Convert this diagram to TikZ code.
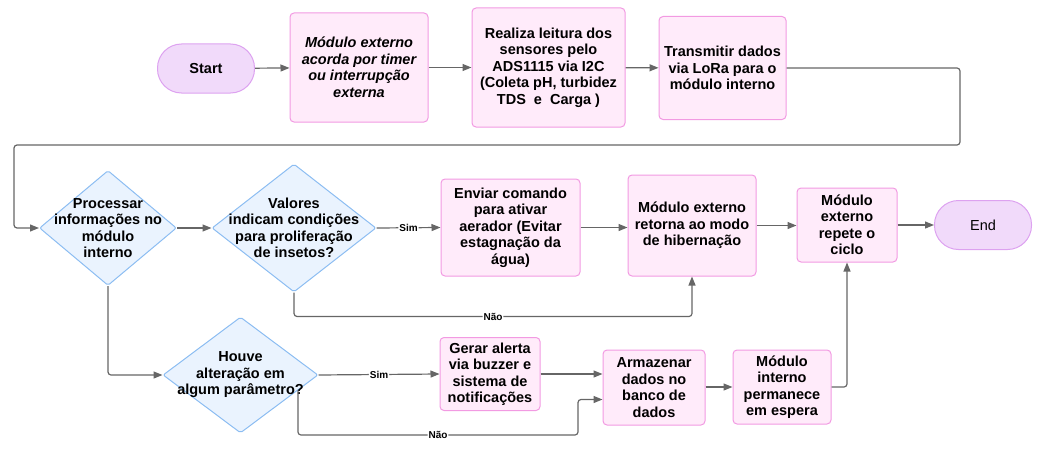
\documentclass[tikz,border=0pt]{standalone}
\usepackage{fontspec}
\setmainfont{Liberation Sans}
\usetikzlibrary{shapes.geometric,arrows.meta,calc}

\definecolor{boxfill}{HTML}{FFEBFA}
\definecolor{boxline}{HTML}{F29AE2}
\definecolor{termfill}{HTML}{F1DAFA}
\definecolor{termline}{HTML}{DDA2F0}
\definecolor{decfill}{HTML}{EAF3FE}
\definecolor{decline}{HTML}{8CBDF2}
\definecolor{wire}{HTML}{666666}

\tikzset{
  proc/.style={draw=boxline, fill=boxfill, line width=1pt, rounded corners=4pt, align=center,
    font=\fontsize{14.5}{16.5}\selectfont\bfseries, inner sep=1pt},
  term/.style={draw=termline, fill=termfill, line width=1pt, rounded corners=24pt,
    minimum width=97pt, minimum height=49pt, font=\fontsize{14.5}{16.5}\selectfont},
  decision/.style={diamond, draw=decline, fill=decfill, line width=1pt, inner sep=0pt, rounded corners=2pt},
  dtext/.style={align=center, font=\fontsize{14.5}{16.5}\selectfont\bfseries},
  flow/.style={draw=wire, line width=1.2pt, -{Triangle[length=9pt,width=7pt]}, rounded corners=3pt},
  yesno/.style={fill=white, font=\fontsize{10}{11}\selectfont\bfseries, inner sep=1pt},
}

\begin{document}
\begin{tikzpicture}[x=1pt, y=-1pt]
  \useasboundingbox (0,0) rectangle (1041,460);

  \node[term, font=\fontsize{14.5}{16.5}\selectfont\bfseries] (start) at (206,68.5) {Start};
  \node[proc, minimum width=138pt, minimum height=109pt, font=\fontsize{14.5}{16.5}\selectfont\bfseries\itshape] (wake) at (359,67.5)
    {Módulo externo\\acorda por timer\\ou interrupção\\externa};
  \node[proc, minimum width=153pt, minimum height=119pt] (read) at (548.5,67.5)
    {Realiza leitura dos\\sensores pelo\\ADS1115 via I2C\\(Coleta pH, turbidez\\TDS\ \ e\ \ Carga )};
  \node[proc, minimum width=127pt, minimum height=103pt] (send) at (722.5,68)
    {Transmitir dados\\via LoRa para o\\módulo interno};

  \node[decision, minimum width=137pt, minimum height=115pt] (procd) at (108,228) {};
  \node[dtext] (procdt) at (procd) {Processar\\informações no\\módulo\\interno};
  \node[decision, minimum width=164pt, minimum height=128pt] (insect) at (294,228) {};
  \node[dtext] (insectt) at (insect) {Valores\\indicam condições\\para proliferação\\de insetos?};
  \node[decision, minimum width=155pt, minimum height=116pt] (change) at (240.5,375) {};
  \node[dtext] (changet) at (change) {Houve\\alteração em\\algum parâmetro?};

  \node[proc, minimum width=139pt, minimum height=97pt] (aer) at (510.5,227.5)
    {Enviar comando\\para ativar\\aerador (Evitar\\estagnação da\\água)};
  \node[proc, minimum width=128pt, minimum height=101pt] (sleep) at (692,225.5)
    {Módulo externo\\retorna ao modo\\de hibernação};
  \node[proc, minimum width=100pt, minimum height=74pt] (again) at (847,225)
    {Módulo\\externo\\repete o\\ciclo};
  \node[term] (end) at (983,225) {End};

  \node[proc, minimum width=100pt, minimum height=73pt] (alert) at (490,374)
    {Gerar alerta\\via buzzer e\\sistema de\\notificações};
  \node[proc, minimum width=102pt, minimum height=75pt] (store) at (654,387.5)
    {Armazenar\\dados no\\banco de\\dados};
  \node[proc, minimum width=98pt, minimum height=74pt] (wait) at (782,387)
    {Módulo\\interno\\permanece\\em espera};

  \coordinate (storein) at ($(store.west)+(0,12)$);

  \draw[flow] (start) -- (wake);
  \draw[flow] (wake) -- (read);
  \draw[flow] (read) -- (send);
  \draw[flow] (send.east) -| (960,145) -| (14,228) -- (procd.west);
  \draw[flow] (procd.east) -- (insect.west);
  \draw[flow] (insect.east) -- node[yesno] {Sim} (aer.west);
  \draw[flow] (aer.east) -- (aer.east -| sleep.west);
  \draw[flow] (sleep.east) -- (sleep.east -| again.west);
  \draw[flow] (again.east) -- (again.east -| end.west);
  \draw[flow] (insect.south) -- ++(0,24) -| node[yesno, pos=0.25] {Não} (sleep.south);
  \draw[flow] (procd.south) |- (change.west);
  \draw[flow] (change.east) -- node[yesno] {Sim} (alert.west);
  \draw[flow] (alert.east) -- (alert.east -| store.west);
  \draw[flow] (change.-15) |- node[yesno, pos=0.75] {Não} (578,435) |- (storein);
  \draw[flow] (store.east |- wait.west) -- (wait.west);
  \draw[flow] (wait.east) -| (again.south);
\end{tikzpicture}
\end{document}
